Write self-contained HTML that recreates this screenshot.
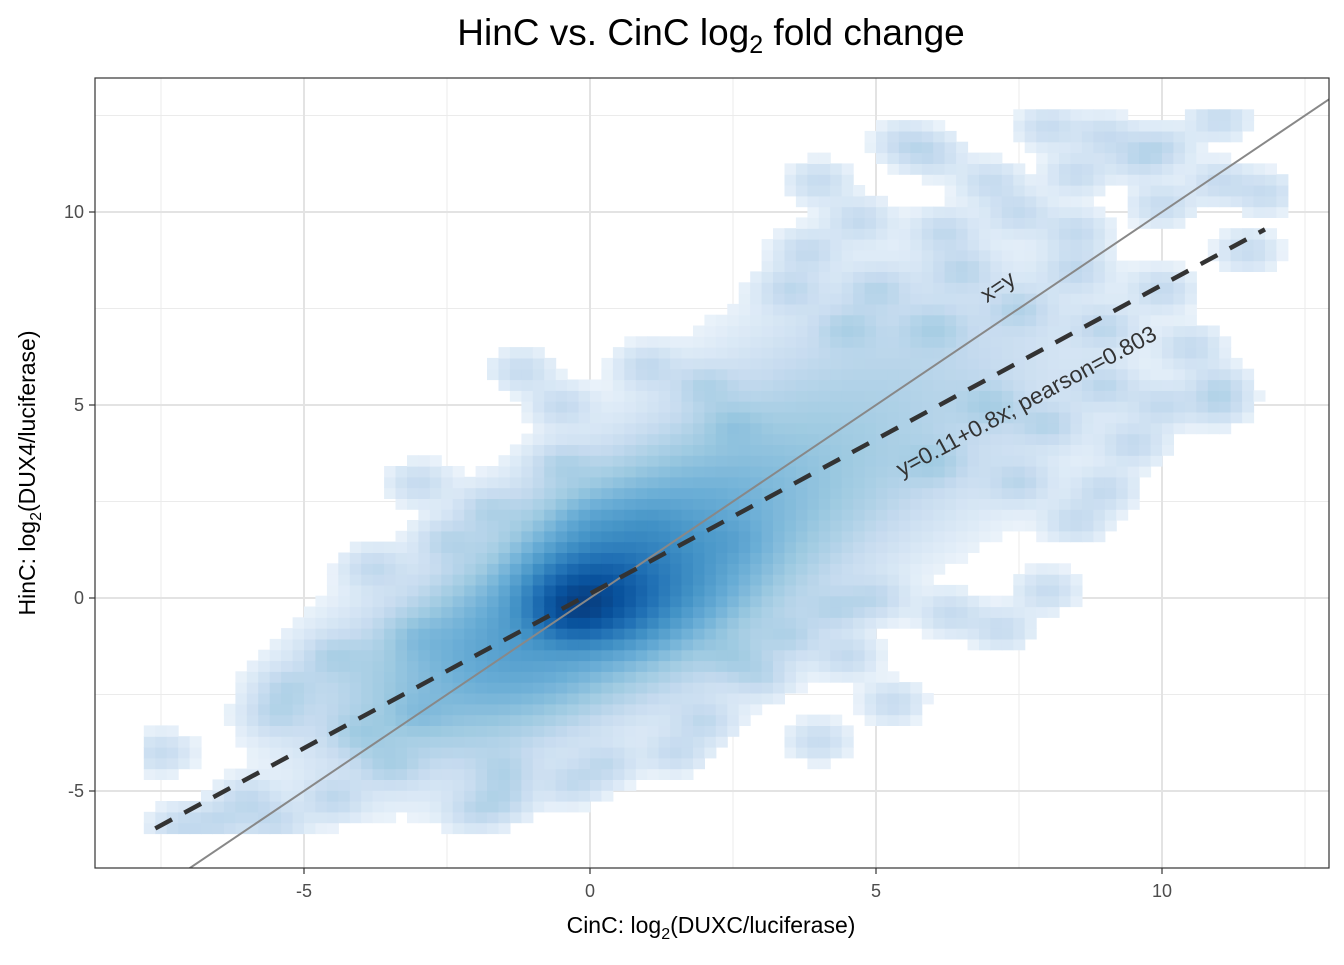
<!DOCTYPE html>
<html><head><meta charset="utf-8"><style>
body{margin:0;background:#fff;font-family:"Liberation Sans",Arial,sans-serif}
svg text{font-family:"Liberation Sans",Arial,sans-serif}
</style></head><body>
<svg id="chart" width="1344" height="960" viewBox="0 0 1344 960" xmlns="http://www.w3.org/2000/svg">
<defs><clipPath id="pc"><rect x="95" y="78" width="1234" height="790"/></clipPath></defs>
<rect width="1344" height="960" fill="#fff"/>
<g id="grid" clip-path="url(#pc)"></g>
<g id="cells" clip-path="url(#pc)"></g>
<g id="lines" clip-path="url(#pc)"></g>
<rect x="95" y="78" width="1234" height="790" fill="none" stroke="#333" stroke-width="1.2"/>
<g id="ticks"></g>
<text x="711" y="45" text-anchor="middle" font-size="37" fill="#000">HinC vs. CinC log<tspan font-size="25" dy="8">2</tspan><tspan dy="-8"> fold change</tspan></text>
<text x="711" y="933" text-anchor="middle" font-size="23" fill="#000">CinC: log<tspan font-size="16" dy="6">2</tspan><tspan dy="-6">(DUXC/luciferase)</tspan></text>
<text transform="translate(35,473) rotate(-90)" text-anchor="middle" font-size="23" fill="#000">HinC: log<tspan font-size="16" dy="6">2</tspan><tspan dy="-6">(DUX4/luciferase)</tspan></text>
</svg>
<script>
const xTicks=[-5,0,5,10];
const yTicks=[-5,0,5,10];
const xMinor=[-7.5,-2.5,2.5,7.5,12.5];
const yMinor=[-7.5,-2.5,2.5,7.5,12.5];
const fitIntercept=0.11;
const fitSlope=0.8;
const pearson=0.803;
// density kernel centres (core cluster)
const coreX=[0,-0.3,0.5,1,-1,2,-2,3,-3,4,5,6,2,0,-1,1,7,-4];
const coreY=[0,-0.3,0.3,1,-1,2,-2,3,-2.5,3.5,5,6,0,2,1,-1.5,6.5,-3.5];
const coreW=[3,2,1.2,0.6,0.6,0.3,0.25,0.15,0.12,0.1,0.08,0.05,0.12,0.1,0.08,0.1,0.04,0.05];
const coreS=[0.6,0.4,0.9,1.1,1.1,1.3,1.3,1.5,1.4,1.7,1.8,2,1.3,1.1,1.1,1.1,2,1.4];
// isolated outlier points
const outX=[8,9,10,11,9.6,8.5,7,6,5.5,4,4.7,6.2,7.5,8.5,10,11,11.8,11.5,10,8.5,6.5,5,3.5,3.8,4.5,6,7.5,9,10.5,11,10,9,9.5,8,7,2,1,-1.2,-0.5,2.5,6,7.5,8.5,6.3,4.3,5,3.5,4.5,3,2.5,5.3,4,2,1.5,0.3,-0.3,-1.5,-2,-1.5,-3.5,-4.5,-5.5,-6.5,-7.5,-5.5,-5.3,-4.5,-3,-4,-3,-3.8,-3,-2.5,-1.8,-0.5,0,1,2.5,8,7.2,9,11,-6,-7.2];
const outY=[12.2,12,11.7,12.4,11.4,11,10.8,11.5,11.8,10.8,9.8,9.5,10,9.5,10.2,10.8,10.5,9,8,8.5,8.5,8,8,9,7,7,7.5,7,6.5,5,5,5.5,4,4.5,5,5.5,6,5.9,5,4.5,3.5,3,2,-0.4,-0.3,0,-1,-1.5,-2,-1.5,-2.7,-3.7,-3.2,-4,-4.3,-4.8,-5.2,-5.5,-4.5,-4.3,-5.2,-5.8,-5.8,-4,-3,-2.3,-1.5,-3,-3.5,-1,0.8,3,1.5,2.3,3.5,2,2,1.5,0.2,-0.8,2.8,5.5,-5.2,-5.9];
const outW=0.12, outS=0.35;

const X0=590,XS=57.2,Y0=598,YS=38.6;
const sx=v=>X0+v*XS, sy=v=>Y0-v*YS;
const NS="http://www.w3.org/2000/svg";
function mk(tag,attrs,parent){const e=document.createElementNS(NS,tag);for(const k in attrs)e.setAttribute(k,attrs[k]);parent.appendChild(e);return e;}
const grid=document.getElementById('grid');
xMinor.forEach(v=>{const e=mk('line',{x1:sx(v),x2:sx(v),y1:78,y2:868,stroke:'#ebebeb','stroke-width':1},grid);

});
yMinor.forEach(v=>{const e=mk('line',{x1:95,x2:1329,y1:sy(v),y2:sy(v),stroke:'#ebebeb','stroke-width':1},grid);

});
xTicks.forEach(v=>{const e=mk('line',{x1:sx(v),x2:sx(v),y1:78,y2:868,stroke:'#e3e3e3','stroke-width':2},grid);

});
yTicks.forEach(v=>{const e=mk('line',{x1:95,x2:1329,y1:sy(v),y2:sy(v),stroke:'#e3e3e3','stroke-width':2},grid);

});

const pal=[[255,255,255],[222,235,247],[198,219,239],[158,202,225],[107,174,214],[66,146,198],[33,113,181],[8,81,156],[8,48,107]];
function col(t){t=Math.max(0,Math.min(1,t))*(pal.length-1);const i=Math.min(pal.length-2,Math.floor(t)),f=t-i;const a=pal[i],b=pal[i+1];
return `rgb(${Math.round(a[0]+(b[0]-a[0])*f)},${Math.round(a[1]+(b[1]-a[1])*f)},${Math.round(a[2]+(b[2]-a[2])*f)})`;}
const cells=document.getElementById('cells');
const dx=0.2,dy=0.28,c=20,maxD=8;
let frag=document.createDocumentFragment();
for(let x=-7.8;x<12.0;x+=dx){for(let y=-6.1;y<12.6;y+=dy){
 const cx=x+dx/2,cy=y+dy/2;let d=0;
 for(let i=0;i<coreX.length;i++){const q=((cx-coreX[i])**2+(cy-coreY[i])**2)/(2*coreS[i]**2);if(q<20)d+=coreW[i]*Math.exp(-q);}
 for(let i=0;i<outX.length;i++){const q=((cx-outX[i])**2+(cy-outY[i])**2)/(2*outS**2);if(q<20)d+=outW*Math.exp(-q);}
 const t=Math.log1p(d*c)/Math.log1p(maxD*c);
 if(t<0.08)continue;
 const r=document.createElementNS(NS,'rect');
 r.setAttribute('x',sx(x).toFixed(1));r.setAttribute('y',sy(y+dy).toFixed(1));
 r.setAttribute('width',(dx*XS+0.6).toFixed(1));r.setAttribute('height',(dy*YS+0.6).toFixed(1));
 r.setAttribute('fill',col(t));
 
 
 frag.appendChild(r);
}}
cells.appendChild(frag);

const lines=document.getElementById('lines');
const idl=mk('line',{x1:sx(-7),y1:sy(-7),x2:sx(12.92),y2:sy(12.92),stroke:'#888','stroke-width':2},lines);


const fx1=-7.6,fx2=11.8;
const fl=mk('line',{x1:sx(fx1),y1:sy(fitIntercept+fitSlope*fx1),x2:sx(fx2),y2:sy(fitIntercept+fitSlope*fx2),stroke:'#333','stroke-width':4.5,'stroke-dasharray':'19 14'},lines);


const ang1=-Math.atan(YS/XS)*180/Math.PI, ang2=-Math.atan(fitSlope*YS/XS)*180/Math.PI;
const t1=mk('text',{transform:`translate(1002,293) rotate(${ang1})`,'text-anchor':'middle','font-size':23,fill:'#333'},lines);
t1.textContent='x=y';


const t2=mk('text',{transform:`translate(1030,408) rotate(${ang2})`,'text-anchor':'middle','font-size':23,fill:'#333'},lines);
t2.textContent=`y=${fitIntercept}+${fitSlope}x; pearson=${pearson}`;



const ticks=document.getElementById('ticks');
xTicks.forEach(v=>{const l=mk('line',{x1:sx(v),x2:sx(v),y1:868,y2:874,stroke:'#333','stroke-width':1.2},ticks);


const t=mk('text',{x:sx(v),y:897,'text-anchor':'middle','font-size':18,fill:'#4d4d4d'},ticks);t.textContent=v;

});
yTicks.forEach(v=>{const l=mk('line',{x1:89,x2:95,y1:sy(v),y2:sy(v),stroke:'#333','stroke-width':1.2},ticks);


const t=mk('text',{x:84,y:sy(v)+6,'text-anchor':'end','font-size':18,fill:'#4d4d4d'},ticks);t.textContent=v;

});
</script>
</body></html>
